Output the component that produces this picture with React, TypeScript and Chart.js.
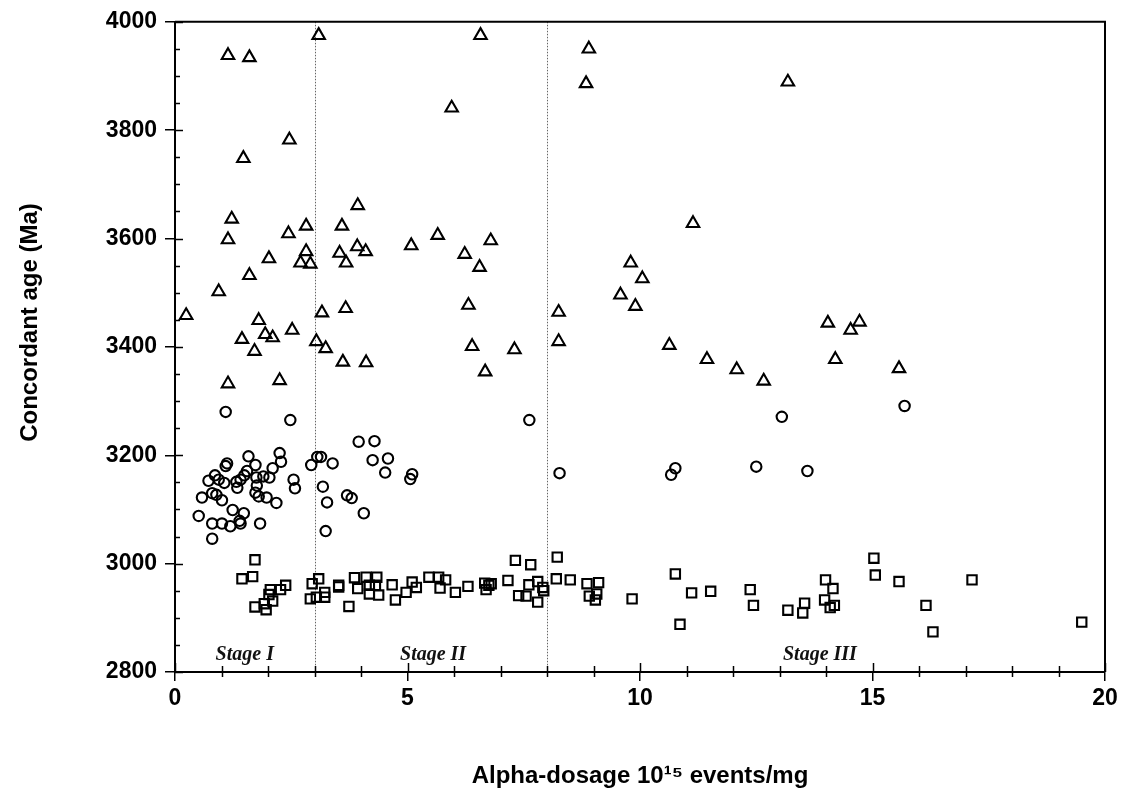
import React, { useEffect, useRef } from 'react';
import { Chart, registerables } from 'chart.js';

Chart.register(...registerables);

// ---- Data ----
const triX = [0.24, 0.94, 1.14, 1.14, 1.14, 1.22, 1.44, 1.47, 1.6, 1.6, 1.71, 1.8, 1.94, 2.02, 2.1, 2.25, 2.44, 2.46, 2.52, 2.7, 2.82, 2.82, 2.91, 3.04, 3.09, 3.16, 3.24, 3.54, 3.59, 3.61, 3.67, 3.68, 3.92, 3.93, 4.1, 4.11, 5.08, 5.65, 5.95, 6.23, 6.31, 6.39, 6.55, 6.57, 6.67, 6.79, 7.3, 8.25, 8.25, 8.84, 8.9, 9.58, 9.8, 9.9, 10.05, 10.63, 11.14, 11.44, 12.08, 12.66, 13.18, 14.04, 14.2, 14.53, 14.72, 15.57];
const triY = [3458, 3502, 3938, 3598, 3332, 3636, 3414, 3748, 3934, 3532, 3392, 3449, 3423, 3563, 3417, 3338, 3609, 3782, 3431, 3555, 3623, 3576, 3553, 3410, 3975, 3463, 3397, 3573, 3623, 3372, 3471, 3555, 3585, 3661, 3576, 3371, 3587, 3606, 3841, 3571, 3477, 3401, 3547, 3975, 3354, 3596, 3395, 3464, 3410, 3886, 3950, 3496, 3555, 3475, 3526, 3403, 3628, 3377, 3358, 3337, 3889, 3444, 3377, 3431, 3446, 3360];

const circX = [1.09, 2.48, 3.95, 4.29, 4.25, 4.58, 4.52, 5.1, 5.06, 2.25, 2.28, 1.58, 1.73, 1.12, 1.09, 2.1, 2.93, 3.06, 3.14, 3.39, 1.55, 1.49, 1.41, 1.32, 1.34, 0.86, 0.72, 0.94, 1.06, 1.75, 1.9, 2.03, 1.76, 1.73, 1.8, 1.97, 2.55, 2.58, 0.8, 0.89, 0.58, 1.01, 2.18, 3.18, 3.27, 3.7, 3.8, 4.06, 1.24, 1.48, 0.51, 0.8, 1.01, 1.19, 1.41, 1.39, 1.83, 0.8, 3.24, 7.62, 8.27, 10.67, 10.76, 12.5, 13.05, 13.6, 15.69];
const circY = [3280, 3265, 3225, 3226, 3191, 3194, 3168, 3165, 3156, 3204, 3188, 3198, 3182, 3185, 3180, 3176, 3182, 3197, 3197, 3185, 3171, 3163, 3155, 3151, 3140, 3163, 3153, 3155, 3149, 3159, 3161, 3159, 3144, 3131, 3124, 3122, 3155, 3139, 3130, 3127, 3122, 3117, 3112, 3142, 3113, 3126, 3121, 3093, 3099, 3093, 3088, 3074, 3074, 3069, 3074, 3079, 3074, 3046, 3060, 3265, 3167, 3164, 3176, 3179, 3271, 3171, 3291];

const sqX = [1.72, 1.44, 1.67, 2.05, 2.27, 2.38, 2.02, 2.1, 1.92, 1.72, 1.96, 3.09, 2.95, 2.91, 3.04, 3.22, 3.22, 3.52, 3.52, 3.74, 3.86, 3.93, 4.11, 4.18, 4.18, 4.34, 4.31, 4.38, 4.67, 4.74, 4.97, 5.1, 5.19, 5.46, 5.67, 5.82, 5.7, 6.03, 6.3, 6.66, 6.75, 6.69, 6.8, 7.16, 7.32, 7.65, 7.39, 7.55, 7.61, 7.8, 7.8, 7.91, 7.93, 8.22, 8.2, 8.5, 8.86, 9.11, 8.91, 9.04, 9.07, 9.83, 10.76, 10.86, 11.11, 11.52, 12.37, 12.44, 13.18, 13.54, 13.5, 13.99, 14.15, 13.97, 14.09, 14.18, 15.03, 15.06, 15.57, 16.15, 16.3, 17.14, 19.5];
const sqY = [3007, 2972, 2976, 2952, 2952, 2960, 2943, 2931, 2926, 2920, 2915, 2972, 2963, 2935, 2938, 2938, 2947, 2960, 2957, 2921, 2974, 2954, 2975, 2960, 2944, 2975, 2960, 2942, 2961, 2933, 2947, 2966, 2956, 2975, 2975, 2970, 2955, 2947, 2958, 2964, 2960, 2952, 2963, 2969, 3006, 2998, 2941, 2940, 2961, 2967, 2929, 2956, 2950, 3012, 2972, 2970, 2963, 2965, 2940, 2933, 2944, 2935, 2981, 2888, 2946, 2949, 2952, 2923, 2914, 2927, 2909, 2970, 2954, 2933, 2919, 2923, 3010, 2979, 2967, 2923, 2874, 2970, 2892];

const xMin = 0;
const xMax = 20;
const yMin = 2800;
const yMax = 4000;
const xMajorStep = 5;
const yMajorStep = 200;
const xMinorStep = 1;
const yMinorStep = 50;

const stageBounds = [3, 8];
const stageLabels = ['Stage I', 'Stage II', 'Stage III'];
const stageX = [1.5, 5.55, 13.87];
const stageY = 2822;

const xTitle = 'Alpha-dosage 10\u00B9\u2075 events/mg';
const yTitle = 'Concordant age (Ma)';
const yTitleCenterValue = 3445;

const toPts = (xs: number[], ys: number[]) => xs.map((x, i) => ({ x, y: ys[i] }));

const decor = {
  id: 'decor',
  beforeDatasetsDraw(chart: any) {
    const { ctx, chartArea: a, scales } = chart;
    const x = scales.x;
    const y = scales.y;
    ctx.save();
    ctx.strokeStyle = '#666';
    ctx.lineWidth = 1;
    ctx.setLineDash([1.5, 1.5]);
    stageBounds.forEach((v) => {
      const px = Math.round(x.getPixelForValue(v)) + 0.5;
      ctx.beginPath();
      ctx.moveTo(px, a.top);
      ctx.lineTo(px, a.bottom);
      ctx.stroke();
    });
    ctx.setLineDash([]);
    ctx.fillStyle = '#111';
    ctx.font = 'italic bold 20px "Liberation Serif", "DejaVu Serif", serif';
    ctx.textAlign = 'center';
    ctx.textBaseline = 'alphabetic';
    stageLabels.forEach((t, i) => {
      ctx.fillText(t, x.getPixelForValue(stageX[i]), y.getPixelForValue(stageY));
    });
    ctx.restore();
  },
  afterDraw(chart: any) {
    const { ctx, chartArea: a, scales } = chart;
    const x = scales.x;
    const y = scales.y;
    ctx.save();
    ctx.strokeStyle = '#000';
    ctx.lineWidth = 2;
    ctx.beginPath();
    ctx.moveTo(a.left, a.top);
    ctx.lineTo(a.right, a.top);
    ctx.lineTo(a.right, a.bottom);
    ctx.stroke();
    ctx.lineWidth = 1.5;
    for (let v = xMin; v <= xMax; v += xMinorStep) {
      const px = Math.round(x.getPixelForValue(v)) + 0.5;
      const major = v % xMajorStep === 0;
      ctx.beginPath();
      ctx.moveTo(px, a.bottom - (major ? 9 : 6));
      ctx.lineTo(px, a.bottom + (major ? 0 : 5));
      ctx.stroke();
    }
    for (let v = yMin; v <= yMax; v += yMinorStep) {
      const py = Math.round(y.getPixelForValue(v)) + 0.5;
      const major = v % yMajorStep === 0;
      ctx.beginPath();
      ctx.moveTo(a.left, py);
      ctx.lineTo(a.left + (major ? 8 : 5), py);
      ctx.stroke();
    }
    // y-axis title (rotated)
    ctx.fillStyle = '#000';
    ctx.font = 'bold 24px "Liberation Sans", Arial, sans-serif';
    ctx.textAlign = 'center';
    ctx.textBaseline = 'middle';
    ctx.translate(30, y.getPixelForValue(yTitleCenterValue));
    ctx.rotate(-Math.PI / 2);
    ctx.fillText(yTitle, 0, 0);
    ctx.restore();
  },
};

export default function App() {
  const ref = useRef<HTMLCanvasElement>(null);
  useEffect(() => {
    if (!ref.current) return;
    const pointCommon = {
      borderColor: '#000',
      backgroundColor: 'rgba(0,0,0,0)',
      borderWidth: 2.1,
      showLine: false,
    };
    const chart = new Chart(ref.current, {
      type: 'scatter',
      data: {
        datasets: [
          { ...pointCommon, label: 'triangles', data: toPts(triX, triY), pointStyle: 'triangle', pointRadius: 7.2 },
          { ...pointCommon, label: 'circles', data: toPts(circX, circY), pointStyle: 'circle', pointRadius: 5.2 },
          { ...pointCommon, label: 'squares', data: toPts(sqX, sqY), pointStyle: 'rect', pointRadius: 6.6 },
        ],
      },
      options: {
        responsive: false,
        animation: false,
        devicePixelRatio: 1,
        layout: { padding: { left: 0, top: 20, right: 21, bottom: 0 } },
        plugins: { legend: { display: false }, tooltip: { enabled: false } },
        scales: {
          x: {
            type: 'linear',
            min: xMin,
            max: xMax,
            afterFit: (s: any) => { s.height = 120; },
            ticks: {
              stepSize: xMajorStep,
              color: '#000',
              padding: 4,
              font: { family: '"Liberation Sans", Arial, sans-serif', size: 23, weight: 'bold' },
              maxRotation: 0,
              callback: (v: any) => String(v),
            },
            grid: { display: true, drawOnChartArea: false, drawTicks: true, tickLength: 9, color: '#000', lineWidth: 1.5 },
            border: { display: true, color: '#000', width: 2 },
            title: {
              display: true,
              text: xTitle,
              color: '#000',
              font: { family: '"Liberation Sans", Arial, sans-serif', size: 24, weight: 'bold' },
              padding: { top: 0, bottom: 1 },
            },
          },
          y: {
            type: 'linear',
            min: yMin,
            max: yMax,
            afterFit: (s: any) => { s.width = 175; },
            ticks: {
              stepSize: yMajorStep,
              color: '#000',
              padding: 8,
              font: { family: '"Liberation Sans", Arial, sans-serif', size: 23, weight: 'bold' },
              callback: (v: any) => String(v),
            },
            grid: { display: true, drawOnChartArea: false, drawTicks: true, tickLength: 10, color: '#000', lineWidth: 1.5 },
            border: { display: true, color: '#000', width: 2 },
            title: { display: false, text: yTitle },
          },
        },
      },
      plugins: [decor],
    } as any);
    return () => chart.destroy();
  }, []);
  return (
    <div style={{ position: 'absolute', left: 0, top: 0, width: 1126, height: 792, background: '#fff' }}>
      <canvas ref={ref} width={1126} height={792} />
    </div>
  );
}
